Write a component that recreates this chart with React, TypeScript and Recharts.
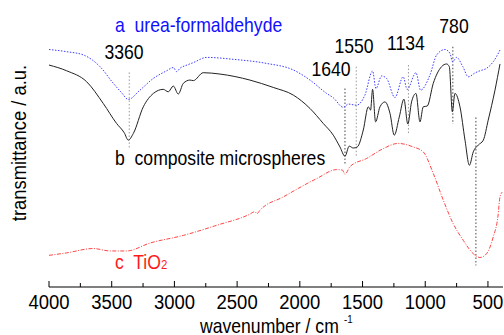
import React from 'react';
import { LineChart, Line, XAxis, YAxis, ReferenceLine } from 'recharts';

// wavenumber (cm-1) and transmittance (a.u., 0-100 over the plot height)
const ufWave = [4000, 3860, 3726, 3593, 3487, 3420, 3368, 3275, 3168, 3062, 3009, 2982, 2956, 2900, 2849, 2743, 2530, 2265, 2052, 1919, 1786, 1733, 1653, 1614, 1547, 1481, 1420, 1393, 1348, 1308, 1242, 1176, 1144, 1074, 1037, 963, 909, 843, 803, 782, 750, 700, 657, 600, 564, 511, 458, 404];
const ufTrans = [87.0, 86.2, 85.0, 80.7, 74.6, 71.1, 68.7, 72.1, 76.4, 79.2, 80.4, 78.9, 80.1, 81.3, 82.2, 84.1, 83.4, 81.9, 79.5, 75.8, 70.9, 69.3, 65.8, 67.0, 66.6, 70.3, 79.1, 72.7, 77.3, 76.4, 69.4, 77.0, 72.4, 78.5, 72.1, 77.6, 85.0, 87.0, 85.6, 82.5, 84.1, 80.7, 77.0, 78.5, 79.2, 80.1, 82.5, 86.8];

const compWave = [4000, 3859, 3700, 3567, 3461, 3400, 3368, 3328, 3248, 3168, 3089, 3049, 3009, 2969, 2929, 2876, 2849, 2770, 2637, 2398, 2212, 2052, 1919, 1813, 1733, 1680, 1640, 1606, 1574, 1542, 1494, 1454, 1436, 1420, 1396, 1361, 1321, 1281, 1247, 1207, 1170, 1139, 1109, 1074, 1042, 1016, 984, 936, 870, 830, 808, 784, 763, 723, 683, 648, 617, 577, 537, 498, 444, 404];
const compTrans = [81.3, 79.2, 75.2, 67.2, 59.9, 56.5, 53.8, 56.2, 66.0, 70.9, 72.4, 71.5, 73.6, 70.7, 74.6, 75.8, 75.6, 78.5, 78.0, 75.8, 73.1, 70.3, 65.4, 59.9, 55.6, 51.3, 47.9, 51.6, 50.9, 51.3, 57.5, 66.0, 64.8, 72.4, 60.5, 66.0, 67.8, 63.6, 55.6, 62.3, 68.8, 59.7, 67.8, 70.9, 60.5, 66.0, 66.3, 74.6, 80.7, 81.7, 80.7, 64.2, 70.9, 66.0, 53.8, 44.6, 49.5, 52.0, 53.8, 61.1, 72.1, 81.7];

const tioWave = [4000, 3859, 3647, 3514, 3381, 3195, 2929, 2663, 2398, 2360, 2340, 2320, 2132, 1866, 1707, 1660, 1640, 1600, 1467, 1335, 1215, 1096, 1016, 936, 856, 777, 697, 617, 564, 511, 458, 420, 404, 385];
const tioTrans = [11.6, 12.5, 14.1, 13.2, 13.2, 16.1, 18.9, 22.6, 26.7, 27.6, 26.9, 28.0, 33.0, 39.7, 43.0, 42.8, 41.3, 44.1, 47.1, 50.7, 52.6, 51.3, 49.5, 41.6, 31.8, 23.2, 17.1, 12.2, 10.8, 12.2, 18.3, 26.0, 33.0, 34.8];

// marker lines: wavenumber, top, bottom
const markWave = [3360, 1640, 1550, 1134, 780, 596];
const markTop = [78.6, 72.7, 80.7, 81.3, 88.0, 62.1];
const markBottom = [50.7, 45.2, 47.7, 56.2, 59.7, 7.9];
const markDark = [false, true, false, false, true, true];

const xTicks = [4000, 3750, 3500, 3250, 3000, 2750, 2500, 2250, 2000, 1750, 1500, 1250, 1000, 750, 500];

const zip = (w: number[], t: number[]) => w.map((v, i) => ({ w: v, t: t[i] }));
const ufData = zip(ufWave, ufTrans);
const compData = zip(compWave, compTrans);
const tioData = zip(tioWave, tioTrans);

const FONT = '"Liberation Sans", Arial, sans-serif';
const SX = 0.88;

const Label = ({ x, y, children, fill = '#000', anchor = 'start', size = 20 }: any) => (
    <text transform={`translate(${x},${y}) scale(${SX},1)`} textAnchor={anchor} fontSize={size} fill={fill}
        fontFamily={FONT} style={{ whiteSpace: 'pre' }}>
        {children}
    </text>
);

const BottomTick = (props: any) => {
    const { x, y, payload } = props;
    const major = payload.value % 500 === 0;
    return (
        <g>
            <line x1={x} x2={x} y1={y} y2={y - (major ? 6 : 4)} stroke="#000" strokeWidth={1} />
            {major && <Label x={x} y={y + 22} anchor="middle" size={21}>{payload.value}</Label>}
        </g>
    );
};

export default function App() {
    return (
        <div style={{ position: 'absolute', left: 0, top: 0, width: 504, height: 335, background: '#fff' }}>
            <LineChart width={504} height={335} margin={{ top: 14, right: 1, left: 49, bottom: 0 }}>
                <XAxis
                    type="number" dataKey="w" domain={[380, 4000]} reversed allowDataOverflow
                    ticks={xTicks} interval={0} tickSize={0} tickMargin={0} height={48}
                    tick={<BottomTick />} axisLine={{ stroke: '#000' }}
                />
                <XAxis xAxisId="top" orientation="top" type="number" domain={[380, 4000]} reversed height={0}
                    tick={false} tickLine={false} axisLine={{ stroke: '#000' }} />
                <YAxis type="number" domain={[0, 100]} width={0} tick={false} tickLine={false} axisLine={{ stroke: '#000' }} />
                <YAxis yAxisId="right" orientation="right" type="number" domain={[0, 100]} width={0}
                    tick={false} tickLine={false} axisLine={{ stroke: '#000' }} />

                {markWave.map((w, i) => (
                    <ReferenceLine key={w} segment={[{ x: w, y: markTop[i] }, { x: w, y: markBottom[i] }]}
                        stroke={markDark[i] ? '#444' : '#999'} strokeDasharray="1.5 2" strokeWidth={1} />
                ))}

                <Line data={tioData} dataKey="t" type="monotone" stroke="#ff3030" strokeWidth={0.9}
                    strokeDasharray="4 1.5 1 1.5" dot={false} isAnimationActive={false} />
                <Line data={ufData} dataKey="t" type="monotone" stroke="#3d3dff" strokeWidth={1}
                    strokeDasharray="1.5 1.5" dot={false} isAnimationActive={false} />
                <Line data={compData} dataKey="t" type="monotone" stroke="#222" strokeWidth={1}
                    dot={false} isAnimationActive={false} />
            </LineChart>

            <svg width={504} height={335} style={{ position: 'absolute', left: 0, top: 0, pointerEvents: 'none' }}>
                <Label x={115} y={32} fill="#1010ff">a  urea-formaldehyde</Label>
                <Label x={115} y={165}>b  composite microspheres</Label>
                <text transform={`translate(115,269) scale(${SX},1)`} fontSize={20} fill="#ff1a1a" fontFamily={FONT}
                    style={{ whiteSpace: 'pre' }}>
                    c  TiO<tspan fontSize={13}>2</tspan>
                </text>
                <Label x={124} y={59} anchor="middle">3360</Label>
                <Label x={331} y={76} anchor="middle">1640</Label>
                <Label x={354} y={53} anchor="middle">1550</Label>
                <Label x={406} y={50} anchor="middle">1134</Label>
                <Label x={454} y={33} anchor="middle">780</Label>
                <text transform={`translate(26,143) rotate(-90) scale(0.92,1)`} textAnchor="middle" fontSize={20} fontFamily={FONT}>
                    transmittance / a.u.
                </text>
                <Label x={200} y={333}>wavenumber / cm</Label>
                <Label x={344} y={323} size={11}>-1</Label>
            </svg>
        </div>
    );
}
